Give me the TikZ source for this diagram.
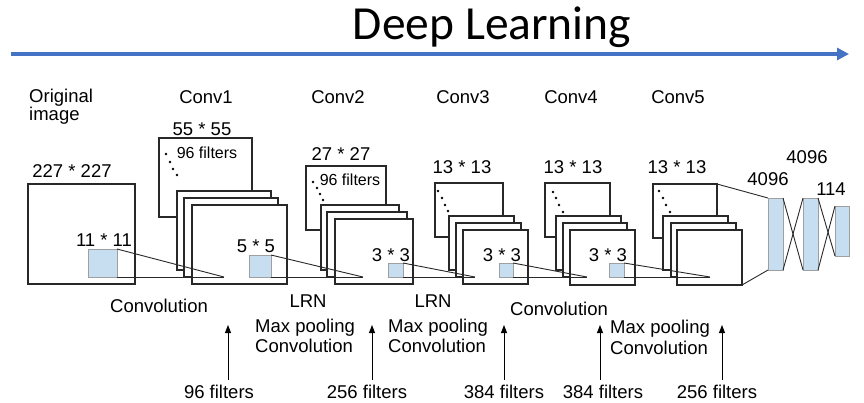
\documentclass[tikz,border=0pt]{standalone}
\usepackage{fontspec}
\setmainfont{Liberation Sans}
\newfontfamily\titlefont{Carlito}
\usetikzlibrary{arrows.meta}
\definecolor{sqblue}{RGB}{199,222,240}
\definecolor{arrblue}{RGB}{68,114,196}
\definecolor{boxline}{RGB}{40,40,40}
\tikzset{
  fmap/.style={draw=boxline, fill=white, line width=1.2pt, inner sep=0pt, outer sep=0pt, anchor=north west},
  patch/.style={draw=gray!75, fill=sqblue, line width=0.8pt, inner sep=0pt, outer sep=0pt, anchor=north west},
  lbl/.style={font=\fontsize{18.5}{21}\selectfont, inner sep=0pt, anchor=base},
  lblw/.style={lbl, anchor=base west},
  small/.style={font=\fontsize{16}{18}\selectfont, inner sep=0pt, anchor=base},
  link/.style={draw=boxline, line width=0.9pt},
  dotm/.style={fill=black, draw=none, circle, minimum size=2.6pt, inner sep=0pt},
  uparrow/.style={draw=black, line width=0.9pt, -{Triangle[length=8pt,width=6pt]}}
}
\begin{document}
\begin{tikzpicture}[x=1pt, y=-1pt]
\useasboundingbox (0,0) rectangle (864,402);

% title and arrow
\node[font=\titlefont\fontsize{47.5}{52}\selectfont, inner sep=0pt, anchor=base] (title) at (492,39.5) {Deep Learning};
\coordinate (dlA) at (11,54);
\coordinate (dlB) at (849,54);
\draw[arrblue, line width=3.2pt, -{Triangle[length=12pt,width=12pt]}] (dlA) -- (dlB);

% column headings
\node[lblw] (orig1) at (29,102) {Original};
\node[lblw] (orig2) at (29,120) {image};
\node[lbl] (hc1) at (206,103) {Conv1};
\node[lbl] (hc2) at (338,103) {Conv2};
\node[lbl] (hc3) at (463,103) {Conv3};
\node[lbl] (hc4) at (571,103) {Conv4};
\node[lbl] (hc5) at (678,103) {Conv5};

% original image
\node[lbl] (sz0) at (72,177) {227 * 227};
\node[fmap, minimum width=107pt, minimum height=100pt] (o) at (28,184) {};
\node[patch, minimum width=29pt, minimum height=28pt] (s0) at (88,249) {};
\node[lbl] (k0) at (104,246) {11 * 11};

% Conv1
\node[lbl] (sz1) at (202,135) {55 * 55};
\node[fmap, minimum width=93pt, minimum height=79pt] (c1a) at (159,138) {};
\node[small] (nf1) at (207,158) {96 filters};
\foreach \p in {(166,154),(170,162),(173,169),(177,175)} \node[dotm] at \p {};
\node[fmap, minimum width=94pt, minimum height=79pt] (c1b) at (177,191) {};
\node[fmap, minimum width=94pt, minimum height=79pt] (c1c) at (184,198) {};
\node[fmap, minimum width=95pt, minimum height=79pt] (c1d) at (192,205) {};
\node[patch, minimum width=22pt, minimum height=22pt] (s1) at (249,255) {};
\node[lbl] (k1) at (256,252) {5 * 5};

% Conv2
\node[lbl] (sz2) at (341,160) {27 * 27};
\node[fmap, minimum width=80pt, minimum height=64pt] (c2a) at (306,166) {};
\node[small] (nf2) at (350,185) {96 filters};
\foreach \p in {(313,182),(317,188),(320,194),(323,200)} \node[dotm] at \p {};
\node[fmap, minimum width=78pt, minimum height=65pt] (c2b) at (321,205) {};
\node[fmap, minimum width=80pt, minimum height=65pt] (c2c) at (327,212) {};
\node[fmap, minimum width=78pt, minimum height=65pt] (c2d) at (335,219) {};
\node[patch, minimum width=15pt, minimum height=14pt] (s2) at (388,263) {};
\node[lbl] (k2) at (391,261) {3 * 3};

% Conv3
\node[lbl] (sz3) at (462,173) {13 * 13};
\node[fmap, minimum width=68pt, minimum height=54pt] (c3a) at (435,183) {};
\foreach \p in {(438,191),(442,198),(445,205),(448,211)} \node[dotm] at \p {};
\node[fmap, minimum width=65pt, minimum height=54pt] (c3b) at (449,216) {};
\node[fmap, minimum width=65pt, minimum height=54pt] (c3c) at (456,223) {};
\node[fmap, minimum width=65pt, minimum height=54pt] (c3d) at (463,230) {};
\node[patch, minimum width=14pt, minimum height=14pt] (s3) at (499,263) {};
\node[lbl] (k3) at (502,261) {3 * 3};

% Conv4
\node[lbl] (sz4) at (573,173) {13 * 13};
\node[fmap, minimum width=65pt, minimum height=54pt] (c4a) at (545,183) {};
\foreach \p in {(553,192),(556,198),(559,205),(563,212)} \node[dotm] at \p {};
\node[fmap, minimum width=65pt, minimum height=54pt] (c4b) at (556,216) {};
\node[fmap, minimum width=64pt, minimum height=54pt] (c4c) at (563,223) {};
\node[fmap, minimum width=65pt, minimum height=55pt] (c4d) at (570,230) {};
\node[patch, minimum width=15pt, minimum height=14pt] (s4) at (609,263) {};
\node[lbl] (k4) at (608,261) {3 * 3};

% Conv5
\node[lbl] (sz5) at (677,173) {13 * 13};
\node[fmap, minimum width=64pt, minimum height=54pt] (c5a) at (653,184) {};
\foreach \p in {(659,191),(663,198),(666,205),(670,212)} \node[dotm] at \p {};
\node[fmap, minimum width=65pt, minimum height=54pt] (c5b) at (663,216) {};
\node[fmap, minimum width=65pt, minimum height=54pt] (c5c) at (671,223) {};
\node[fmap, minimum width=65pt, minimum height=55pt] (c5d) at (677,230) {};

% fully connected
\node[patch, minimum width=15pt, minimum height=72pt] (f1) at (768,198) {};
\node[patch, minimum width=15pt, minimum height=72pt] (f2) at (803,198) {};
\node[patch, minimum width=14pt, minimum height=50pt] (f3) at (835,206) {};
\node[lbl] (n1) at (768,185) {4096};
\node[lbl] (n2) at (807,163) {4096};
\node[lbl] (n3) at (831,195) {114};

% projection lines
\coordinate (p1) at (224,277);
\coordinate (p2) at (363,277);
\coordinate (p3) at (475,277);
\coordinate (p4) at (587,277);
\coordinate (p5) at (710,277);
\draw[link] (s0.north east) -- (p1);
\draw[link] (s0.south east) -- (p1);
\draw[link] (s1.north east) -- (p2);
\draw[link] (s1.south east) -- (p2);
\draw[link] (s2.north east) -- (p3);
\draw[link] (s2.south east) -- (p3);
\draw[link] (s3.north east) -- (p4);
\draw[link] (s3.south east) -- (p4);
\draw[link] (s4.north east) -- (p5);
\draw[link] (s4.south east) -- (p5);
\draw[link] (c5a.north east) -- (f1.north west);
\draw[link] (c5d.south east) -- (f1.south west);
\draw[link] (f1.north east) -- (f2.south west);
\draw[link] (f1.south east) -- (f2.north west);
\draw[link] (f2.north east) -- (f3.south west);
\draw[link] (f2.south east) -- (f3.north west);

% operation labels
\node[lbl] (op1) at (159,312) {Convolution};
\node[lbl] (lrn1) at (308,307) {LRN};
\node[lblw] (mp1) at (255,332) {Max pooling};
\node[lblw] (cv1) at (255,352) {Convolution};
\node[lbl] (lrn2) at (433,307) {LRN};
\node[lblw] (mp2) at (388,332) {Max pooling};
\node[lblw] (cv2) at (388,352) {Convolution};
\node[lbl] (op3) at (559,315) {Convolution};
\node[lblw] (mp3) at (610,333) {Max pooling};
\node[lblw] (cv3) at (610,354) {Convolution};

% filter counts and arrows
\node[lbl] (fl1) at (219,398) {96 filters};
\node[lbl] (fl2) at (367,398) {256 filters};
\node[lbl] (fl3) at (504,398) {384 filters};
\node[lbl] (fl4) at (603,398) {384 filters};
\node[lbl] (fl5) at (717,398) {256 filters};
\foreach \i/\x in {1/228,2/372,3/504,4/600,5/722}{
  \coordinate (ab\i) at (\x,380);
  \coordinate (at\i) at (\x,325);
  \draw[uparrow] (ab\i) -- (at\i);
}
\end{tikzpicture}
\end{document}
